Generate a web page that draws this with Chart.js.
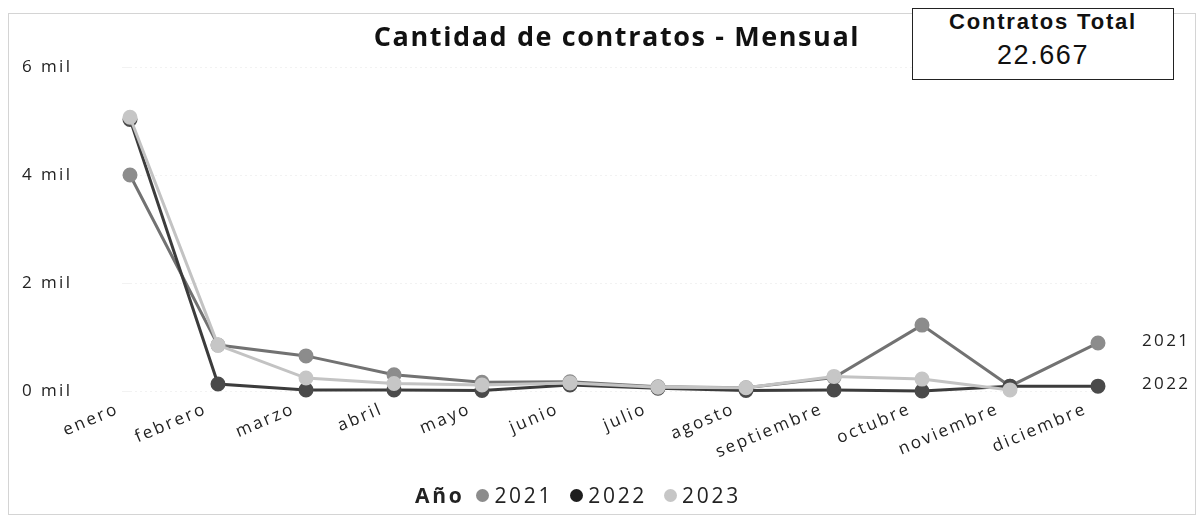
<!DOCTYPE html>
<html lang="es">
<head>
<meta charset="utf-8">
<title>Cantidad de contratos - Mensual</title>
<script src="https://cdn.jsdelivr.net/npm/chart.js@4.4.0/dist/chart.umd.min.js"></script>
<style>
  html, body { margin: 0; padding: 0; background: #fff; }
  .wrap { position: relative; width: 1202px; height: 527px; overflow: hidden; font-family: "Open Sans", "DejaVu Sans", sans-serif; }
  .frame { position: absolute; left: 8px; top: 13px; width: 1188px; height: 502px; border: 1px solid #d4d4d4; box-sizing: border-box; }
  canvas { position: absolute; left: 0; top: 0; }
  .title { position: absolute; left: 0; width: 1234px; top: 17px; text-align: center; font-weight: 700; font-size: 27px; color: #111; letter-spacing: 1.6px; }
  .card { position: absolute; left: 912px; top: 8px; width: 262px; height: 72px; border: 1.5px solid #222; background: #fff; box-sizing: border-box; text-align: center; font-family: "Liberation Sans", Arial, sans-serif; color: #111; }
  .card .label { font-weight: 700; font-size: 22px; margin-top: 0; letter-spacing: 1.8px; white-space: nowrap; }
  .card .value { font-size: 27px; margin-top: 5px; letter-spacing: 1.6px; }
  .legend { position: absolute; top: 481px; left: 415px; display: flex; align-items: center; font-size: 21px; color: #222; letter-spacing: 2.7px; }
  .legend b { margin-right: 12px; }
  .legend .item { display: flex; align-items: center; margin-right: 17px; }
  .legend .dot { width: 13px; height: 13px; border-radius: 50%; margin-right: 5px; }
</style>
</head>
<body>
<div class="wrap">
  <div class="frame"></div>
  <canvas id="chart" width="1202" height="527"></canvas>
  <div class="title">Cantidad de contratos - Mensual</div>
  <div class="card">
    <div class="label">Contratos Total</div>
    <div class="value" id="total"></div>
  </div>
  <div class="legend" id="legend"><b>Año</b></div>
</div>

<script>
// meses del eje X
const months = ['enero', 'febrero', 'marzo', 'abril', 'mayo', 'junio', 'julio', 'agosto', 'septiembre', 'octubre', 'noviembre', 'diciembre'];

// contratos por mes y año
const years = ['2021', '2022', '2023'];
const values2021 = [4000, 850, 650, 300, 160, 170, 80, 60, 250, 1220, 90, 890];
const values2022 = [5030, 130, 20, 20, 10, 110, 50, 10, 20, 0, 90, 90];
const values2023 = [5070, 850, 240, 140, 110, 150, 70, 60, 270, 220, 20];

const yTicks = [0, 2000, 4000, 6000];
const totalContratos = 22667;

const lineColors = ['#727272', '#3c3c3c', '#c3c3c3'];
const dotColors = ['#8c8c8c', '#1e1e1e', '#c6c6c6'];

document.getElementById('total').textContent = totalContratos.toLocaleString('es-ES');

// leyenda: Año ● 2021 ● 2022 ● 2023
const legend = document.getElementById('legend');
years.forEach((y, i) => {
  legend.insertAdjacentHTML('beforeend',
    `<span class="item"><span class="dot" style="background:${dotColors[i]}"></span>${y}</span>`);
});

// texto del canvas algo más espaciado, como el resto del informe
const spacing = {
  id: 'spacing',
  beforeLayout(chart) { chart.ctx.letterSpacing = '2.4px'; },
  beforeDraw(chart) { chart.ctx.letterSpacing = '2.4px'; }
};

// etiqueta del año al final de cada línea que llega a diciembre
const endLabels = {
  id: 'endLabels',
  afterDatasetsDraw(chart) {
    const ctx = chart.ctx;
    ctx.save();
    ctx.font = '17px "Open Sans", sans-serif';
    ctx.fillStyle = '#222';
    ctx.textBaseline = 'middle';
    chart.data.datasets.forEach((ds, i) => {
      if (ds.data.length !== months.length) return;
      const meta = chart.getDatasetMeta(i);
      const pt = meta.data[meta.data.length - 1];
      ctx.fillText(ds.label, chart.chartArea.right + 44, pt.y - 2);
    });
    ctx.restore();
  }
};

const series = [values2021, values2022, values2023];

new Chart(document.getElementById('chart'), {
  type: 'line',
  data: {
    labels: months,
    datasets: series.map((data, i) => ({
      label: years[i],
      data: data,
      borderColor: lineColors[i],
      backgroundColor: dotColors[i],
      pointBackgroundColor: i === 1 ? '#4a4a4a' : dotColors[i],
      pointBorderColor: i === 1 ? '#4a4a4a' : dotColors[i],
      borderWidth: 3,
      pointRadius: 6,
      tension: 0,
      clip: false,
      order: 2 - i
    }))
  },
  options: {
    responsive: false,
    animation: false,
    layout: { padding: { left: 22, right: 104, top: 67, bottom: 66 } },
    plugins: { legend: { display: false }, tooltip: { enabled: false } },
    scales: {
      x: {
        offset: false,
        grid: { display: false },
        border: { display: false },
        ticks: {
          minRotation: 23, maxRotation: 23, autoSkip: false,
          padding: 0, labelOffset: -12,
          color: '#222', font: { family: '"Open Sans", sans-serif', size: 17 }
        },
        afterFit: s => { s.height = 70; }
      },
      y: {
        min: 0, max: 6000,
        afterBuildTicks: s => { s.ticks = yTicks.map(v => ({ value: v })); },
        grid: { color: 'rgba(0,0,0,0.05)', lineWidth: 1 },
        border: { display: false, dash: [2, 3] },
        ticks: {
          crossAlign: 'far', padding: 0,
          color: '#222', font: { family: '"Open Sans", sans-serif', size: 17 },
          callback: v => (v / 1000) + ' mil'
        },
        afterFit: s => { s.width = 108; }
      }
    }
  },
  plugins: [spacing, endLabels]
});
</script>
</body>
</html>
